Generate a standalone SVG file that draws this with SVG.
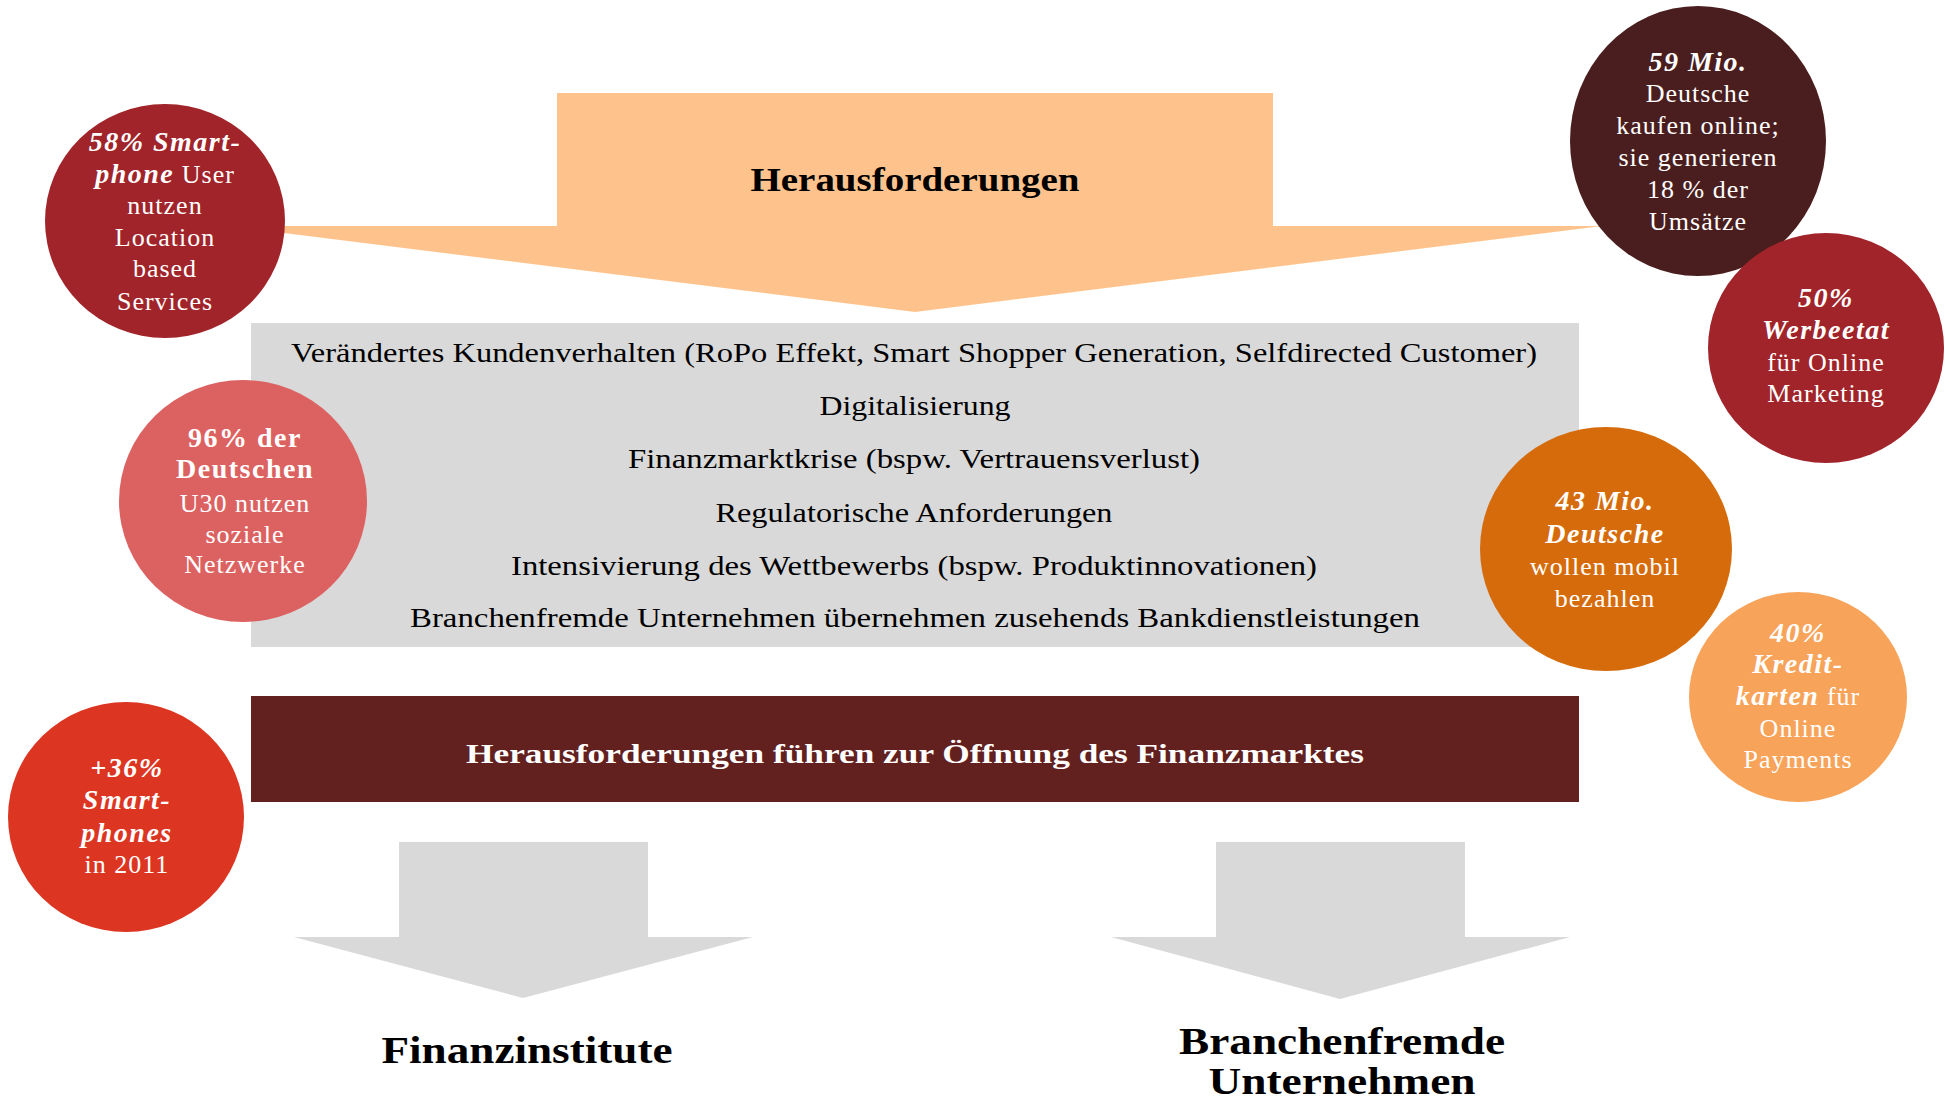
<svg xmlns="http://www.w3.org/2000/svg" width="1950" height="1101" viewBox="0 0 1950 1101">
<style>
text{font-family:"Liberation Serif","Times New Roman",serif}
.c{fill:#fff;font-size:26px;letter-spacing:1px;text-anchor:middle}
.bi{font-weight:bold;font-style:italic;font-size:28px;letter-spacing:1.5px}
.b{font-weight:bold;font-size:28px;letter-spacing:1.5px}
.g{fill:#000;font-size:28px;text-anchor:middle}
.h{fill:#000;font-weight:bold;text-anchor:middle}
.arrowg{fill:#d9d9d9}
</style>
<rect width="1950" height="1101" fill="#fff"/>
<g id="connectors">
<path id="top-arrow" d="M557,93 H1273 V226 H1602 L915,312 L228,226 H557 Z" fill="#fec38c"/>
<path id="left-arrow" class="arrowg" d="M399,842 H648 V937 H753 L523,998 L294,937 H399 Z"/>
<path id="right-arrow" class="arrowg" d="M1216,842 H1465 V937 H1570 L1340,999 L1111,937 H1216 Z"/>
</g>
<g id="heading">
<text class="h" x="915" y="191" font-size="33" textLength="329" lengthAdjust="spacingAndGlyphs">Herausforderungen</text>
</g>
<g id="challenges">
<rect x="251" y="323" width="1328" height="324" fill="#d9d9d9"/>
<text class="g" x="914" y="362" textLength="1246" lengthAdjust="spacingAndGlyphs">Verändertes Kundenverhalten  (RoPo Effekt, Smart Shopper Generation, Selfdirected Customer)</text>
<text class="g" x="915" y="415" textLength="191" lengthAdjust="spacingAndGlyphs">Digitalisierung</text>
<text class="g" x="914" y="468" textLength="572" lengthAdjust="spacingAndGlyphs">Finanzmarktkrise (bspw. Vertrauensverlust)</text>
<text class="g" x="914" y="522" textLength="397" lengthAdjust="spacingAndGlyphs">Regulatorische Anforderungen</text>
<text class="g" x="914" y="575" textLength="806" lengthAdjust="spacingAndGlyphs">Intensivierung des Wettbewerbs (bspw. Produktinnovationen)</text>
<text class="g" x="915" y="627" textLength="1010" lengthAdjust="spacingAndGlyphs">Branchenfremde Unternehmen übernehmen zusehends Bankdienstleistungen</text>
</g>
<g id="opening">
<rect x="251" y="696" width="1328" height="106" fill="#62201f"/>
<text x="915" y="763" fill="#fff" font-size="28" font-weight="bold" text-anchor="middle" textLength="898" lengthAdjust="spacingAndGlyphs">Herausforderungen führen zur Öffnung des Finanzmarktes</text>
</g>
<g id="finanzinstitute">
<text class="h" x="527" y="1063" font-size="37" textLength="291" lengthAdjust="spacingAndGlyphs">Finanzinstitute</text>
</g>
<g id="branchenfremde">
<text class="h" x="1342" y="1054" font-size="37" textLength="326" lengthAdjust="spacingAndGlyphs">Branchenfremde</text>
<text class="h" x="1342" y="1094" font-size="37" textLength="267" lengthAdjust="spacingAndGlyphs">Unternehmen</text>
</g>
<g id="circle-58">
<ellipse cx="165" cy="221" rx="120" ry="117" fill="#a0242a"/>
<text class="c" x="165" y="151"><tspan class="bi">58% Smart-</tspan></text>
<text class="c" x="165" y="183"><tspan class="bi">phone</tspan> User</text>
<text class="c" x="165" y="214">nutzen</text>
<text class="c" x="165" y="246">Location</text>
<text class="c" x="165" y="277">based</text>
<text class="c" x="165" y="310">Services</text>
</g>
<g id="circle-96">
<ellipse cx="243" cy="501" rx="124" ry="121" fill="#dc6262"/>
<text class="c b" x="245" y="447">96% der</text>
<text class="c b" x="245" y="478">Deutschen</text>
<text class="c" x="245" y="512">U30 nutzen</text>
<text class="c" x="245" y="543">soziale</text>
<text class="c" x="245" y="573">Netzwerke</text>
</g>
<g id="circle-36">
<ellipse cx="126" cy="817" rx="118" ry="115" fill="#dc3522"/>
<text class="c bi" x="127" y="777">+36%</text>
<text class="c bi" x="127" y="809">Smart-</text>
<text class="c bi" x="127" y="842">phones</text>
<text class="c" x="127" y="873">in 2011</text>
</g>
<g id="circle-59">
<ellipse cx="1698" cy="141" rx="128" ry="135" fill="#4a1e1e"/>
<text class="c bi" x="1698" y="71">59 Mio.</text>
<text class="c" x="1698" y="102">Deutsche</text>
<text class="c" x="1698" y="134">kaufen online;</text>
<text class="c" x="1698" y="166">sie generieren</text>
<text class="c" x="1698" y="198">18 % der</text>
<text class="c" x="1698" y="230">Umsätze</text>
</g>
<g id="circle-50">
<ellipse cx="1826" cy="348" rx="118" ry="115" fill="#a0242a"/>
<text class="c bi" x="1826" y="307">50%</text>
<text class="c bi" x="1826" y="339">Werbeetat</text>
<text class="c" x="1826" y="371">für Online</text>
<text class="c" x="1826" y="402">Marketing</text>
</g>
<g id="circle-43">
<ellipse cx="1606" cy="549" rx="126" ry="122" fill="#d66b0c"/>
<text class="c bi" x="1605" y="510">43 Mio.</text>
<text class="c bi" x="1605" y="543">Deutsche</text>
<text class="c" x="1605" y="575">wollen mobil</text>
<text class="c" x="1605" y="607">bezahlen</text>
</g>
<g id="circle-40">
<ellipse cx="1798" cy="697" rx="109" ry="105" fill="#f7a35a"/>
<text class="c bi" x="1798" y="642">40%</text>
<text class="c bi" x="1798" y="673">Kredit-</text>
<text class="c" x="1798" y="705"><tspan class="bi">karten</tspan> für</text>
<text class="c" x="1798" y="737">Online</text>
<text class="c" x="1798" y="768">Payments</text>
</g>
</svg>
